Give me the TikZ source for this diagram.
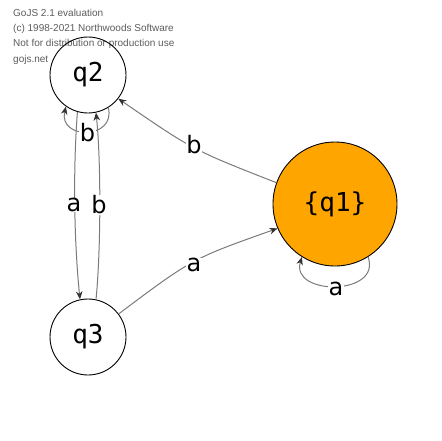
\documentclass[tikz,border=0pt]{standalone}
\usepackage{fontspec}
\setmainfont{DejaVu Sans}
\newfontfamily\statefont{DejaVu Sans Mono}
\newfontfamily\wmfont{Liberation Sans}
\usetikzlibrary{arrows.meta}
\definecolor{accept}{HTML}{FFA500}
\definecolor{edgegray}{HTML}{7A7A7A}
\definecolor{wmgray}{HTML}{5C5C5C}
\tikzset{
  state/.style={circle, draw=black, line width=0.9pt, minimum size=76pt, inner sep=0pt,
    font=\statefont\fontsize{26}{28}\selectfont},
  final/.style={state, fill=accept, minimum size=124pt},
  trans/.style={draw=edgegray, line width=1pt,
    -{Stealth[length=8pt, width=6.5pt, inset=2.5pt, color=black!80]}},
  tlabel/.style={fill=white, inner sep=0.6pt, font=\fontsize{24}{26}\selectfont},
  wmline/.style={anchor=west, inner sep=0pt, text=wmgray,
    font=\wmfont\fontsize{10}{11}\selectfont}
}
\begin{document}
\begin{tikzpicture}[x=1pt, y=-1pt]
  \useasboundingbox (0,0) rectangle (442,440);

  % evaluation notice, top left
  \node[wmline] (n1) at (13,13) {GoJS 2.1 evaluation};
  \node[wmline] (n2) at (13,28.5) {(c) 1998-2021 Northwoods Software};
  \node[wmline] (n3) at (13,44) {Not for distribution or production use};
  \node[wmline] (n4) at (13,59.5) {gojs.net};

  % states
  \node[state] (q2) at (88,75) {q2};
  \node[state] (q3) at (88,337) {q3};
  \node[final] (q1) at (335,204) {\{q1\}};

  % transitions between q2 and q3
  \draw[trans] (q2.254) .. controls (73,170) and (74,240) .. (q3.102);
  \draw[trans] (q3.78) .. controls (101,250) and (101,160) .. (q2.282);

  % self loop on q2
  \draw[trans] (q2.302) .. controls (116,140) and (58,140) .. (q2.235);

  % transitions to and from the accepting state
  \draw[trans] (q1.160) .. controls (193,150) .. (q2.322);
  \draw[trans] (q3.37) .. controls (192.5,258.5) .. (q1.203);

  % self loop on q1
  \draw[trans] (q1.302) .. controls (382,296) and (290,296) .. (q1.238);

  % transition labels
  \node[tlabel] (la1) at (74,205) {a};
  \node[tlabel] (lb1) at (99,205) {b};
  \node[tlabel] (lb2) at (87.5,133) {b};
  \node[tlabel] (lb3) at (194,145) {b};
  \node[tlabel] (la2) at (194,265) {a};
  \node[tlabel] (la3) at (336,289) {a};
\end{tikzpicture}
\end{document}
